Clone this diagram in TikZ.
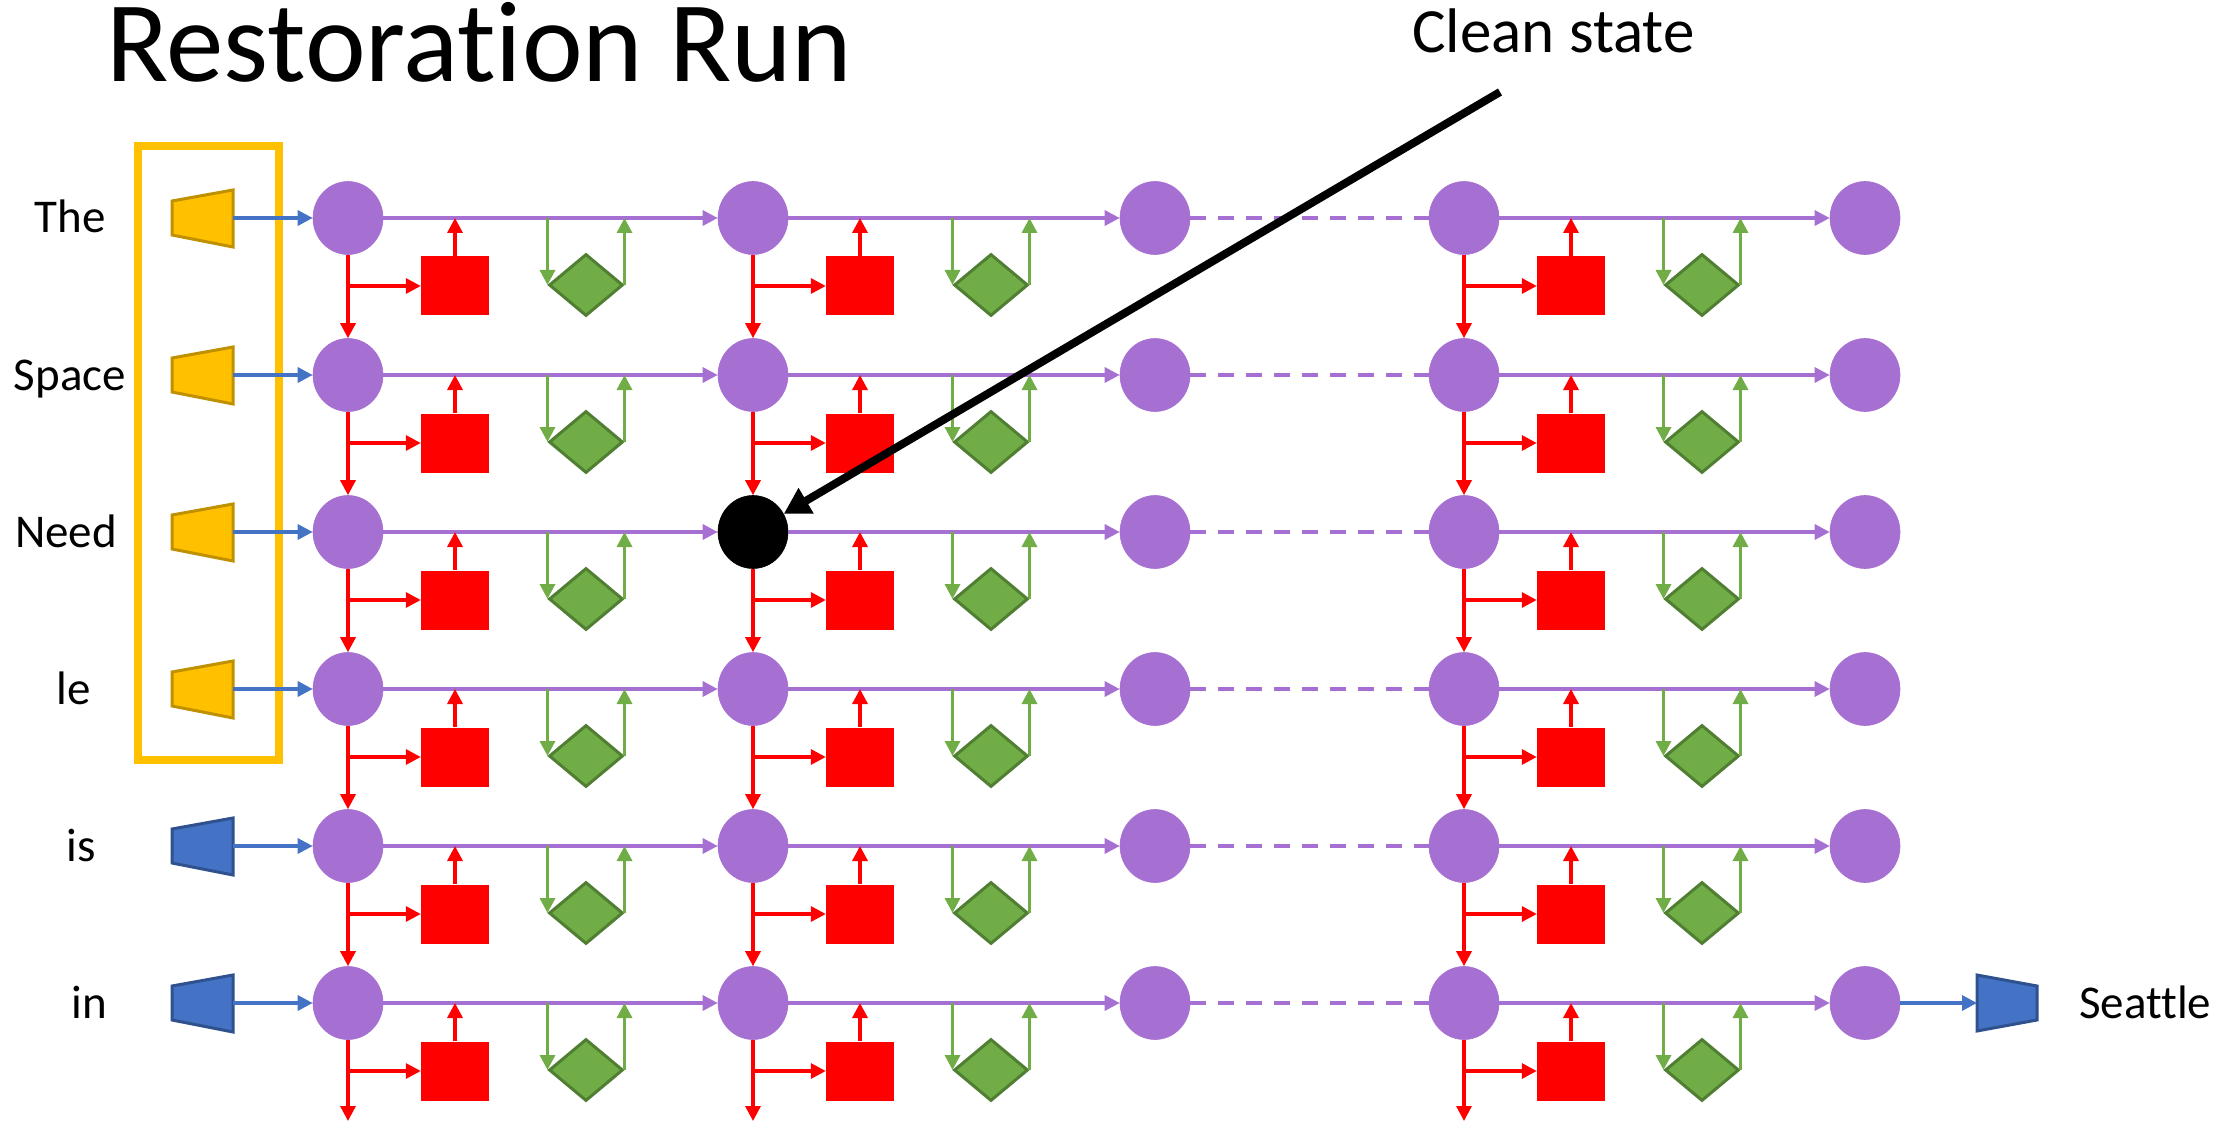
\documentclass[tikz,border=0pt]{standalone}
\usepackage{fontspec}
\setmainfont{Carlito}[Ligatures=NoCommon]
\usetikzlibrary{arrows.meta,shapes.geometric}

\definecolor{statepurple}{HTML}{A66FD2}
\definecolor{gatered}{HTML}{FF0000}
\definecolor{leafgreen}{HTML}{70AD47}
\definecolor{leafgreendark}{HTML}{507E32}
\definecolor{amber}{HTML}{FFC000}
\definecolor{amberdark}{HTML}{BF9000}
\definecolor{steelblue}{HTML}{4472C4}
\definecolor{steelbluedark}{HTML}{2F528F}

\tikzset{
  state/.style={ellipse, fill=statepurple, draw=statepurple, line width=0.6pt,
    minimum width=70pt, minimum height=73pt, inner sep=0pt},
  cleanstate/.style={state, fill=black, draw=black},
  gatebox/.style={rectangle, fill=gatered, minimum width=68pt, minimum height=59pt, inner sep=0pt},
  mixbox/.style={diamond, fill=leafgreen, draw=leafgreendark, line width=3pt,
    minimum width=74pt, minimum height=62pt, inner sep=0pt},
  headtip/.style={-{Triangle[length=15pt,width=15pt]}},
  flow/.style={headtip, draw=statepurple, line width=3.3pt},
  skipflow/.style={draw=statepurple, line width=3.3pt, dash pattern=on 16pt off 12pt},
  gatearrow/.style={headtip, draw=gatered, line width=3.3pt},
  mixarrow/.style={headtip, draw=leafgreen, line width=3.3pt},
  feed/.style={headtip, draw=steelblue, line width=3.3pt},
  intrap/.style={fill=amber, draw=amberdark, line width=3pt, line join=miter},
  outtrap/.style={fill=steelblue, draw=steelbluedark, line width=3pt, line join=miter},
  word/.style={inner sep=0pt, font=\fontsize{47}{50}\selectfont},
}

\begin{document}
\begin{tikzpicture}[x=1pt, y=-1pt]
\useasboundingbox (0,0) rectangle (2233,1123);

% title and callout text
\node[inner sep=0pt, anchor=base west, font=\fontsize{115}{120}\selectfont] (title) at (106,82) {Restoration Run};
\node[inner sep=0pt, anchor=base west, font=\fontsize{63}{70}\selectfont] (callout) at (1412,53) {Clean state};

% frame round the word inputs
\node[draw=amber, line width=8pt, minimum width=141pt, minimum height=614pt, inner sep=0pt] (inputframe) at (208.5,453) {};

% grid of hidden states
\foreach \r/\y in {1/218,2/375,3/532,4/689,5/846,6/1003}{
  \foreach \c/\x in {1/348,2/753,3/1155,4/1464,5/1865}{
    \def\kind{state}
    \ifnum\c\r=23 \def\kind{cleanstate}\fi
    \node[\kind] (s\c-\r) at (\x,\y) {};
  }
}

% word labels and input trapezoids
\foreach \r/\y/\lx/\w in {1/218/70/The,2/375/70/Space,3/532/66/Need,4/689/74/le,5/846/81/is,6/1003/89/in}{
  \node[word, anchor=base] (w\r) at (\lx,\y+15) {\w};
  \coordinate (in\r) at (233,\y);
}
\foreach \r/\y in {1/218,2/375,3/532,4/689}{
  \draw[intrap] (172,\y-17) -- (233,\y-28) -- (233,\y+29) -- (172,\y+17) -- cycle;
}
\foreach \r/\y in {5/846,6/1003}{
  \draw[outtrap] (172,\y-17) -- (233,\y-28) -- (233,\y+29) -- (172,\y+17) -- cycle;
}
\foreach \r in {1,...,6}{
  \draw[feed] (in\r) -- (s1-\r);
}

% dashed skip between the third and fourth columns
\foreach \r in {1,...,6}{
  \draw[skipflow] (s3-\r.east) -- (s4-\r.west);
}

% recurrent steps with gate and mixing units
\foreach \c/\n in {1/2,2/3,4/5}{
  \foreach \r in {1,...,6}{
    \node[gatebox] (g\c-\r) at ([shift={(107,68)}]s\c-\r.center) {};
    \node[mixbox] (m\c-\r) at ([shift={(238,67)}]s\c-\r.center) {};
    \draw[flow] (s\c-\r) -- (s\n-\r);
    \draw[gatearrow] (g\c-\r.north) -- (g\c-\r.north |- s\c-\r.center);
    \draw[mixarrow] (m\c-\r.west |- s\c-\r.center) -- (m\c-\r.west);
    \draw[mixarrow] (m\c-\r.east) -- (m\c-\r.east |- s\c-\r.center);
  }
  \foreach \r/\nr in {1/2,2/3,3/4,4/5,5/6}{
    \draw[gatearrow] (s\c-\r.south) -- (s\c-\nr.north);
  }
  \coordinate (drop\c) at ([shift={(0,118)}]s\c-6.center);
  \draw[gatearrow] (s\c-6.south) -- (drop\c);
  \foreach \r in {1,...,6}{
    \draw[gatearrow] (s\c-\r.south |- g\c-\r.west) -- (g\c-\r.west);
  }
}

% output word
\draw[outtrap] (1977,1003-28) -- (2037,1003-17) -- (2037,1003+17) -- (1977,1003+28) -- cycle;
\coordinate (outT) at (1977,1003);
\draw[feed] (s5-6) -- (outT);
\node[word, anchor=base west] (seattle) at (2079,1018) {Seattle};

% pointer to the clean state
\coordinate (pointer) at (1500,92);
\draw[line width=8pt, -{Triangle[length=26pt,width=28pt]}] (pointer) -- (s2-3);
\end{tikzpicture}
\end{document}
